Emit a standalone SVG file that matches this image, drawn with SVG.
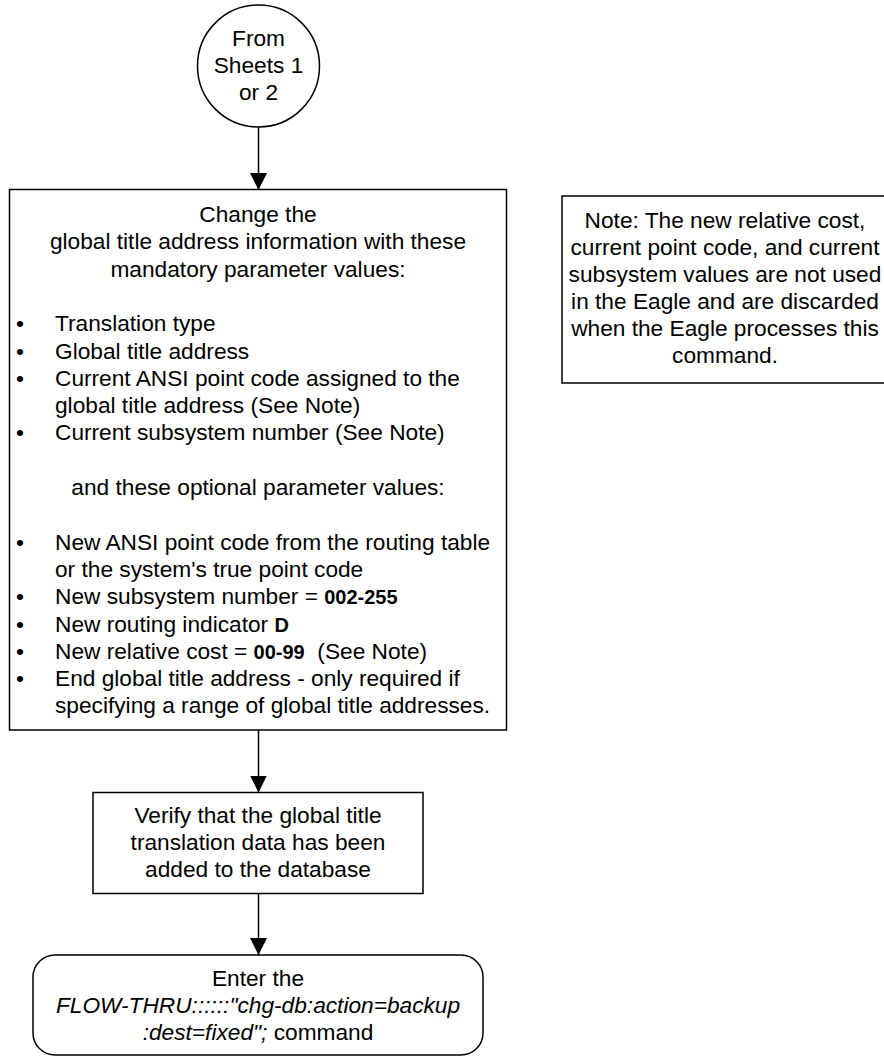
<svg xmlns="http://www.w3.org/2000/svg" width="884" height="1057" viewBox="0 0 884 1057">
<style>
.s{fill:#fff;stroke:#000;stroke-width:1.5}
.t{font-family:"Liberation Sans",Arial,sans-serif;font-size:22.7px;fill:#000}
.c{text-anchor:middle}
.b{font-weight:bold;font-size:20px}
.i{font-style:italic}
.e{stroke:#000;stroke-width:1.5;fill:none}
</style>
<defs>
<marker id="ah" viewBox="0 0 10 10" refX="10" refY="5" markerUnits="userSpaceOnUse" markerWidth="17" markerHeight="18" orient="auto">
<path d="M0,0 L10,5 L0,10 Z" fill="#000"/>
</marker>
</defs>
<g id="connectors">
<line class="e" x1="258.5" y1="127" x2="258.5" y2="190" marker-end="url(#ah)"/>
<line class="e" x1="258.5" y1="730" x2="258.5" y2="792.5" marker-end="url(#ah)"/>
<line class="e" x1="258.5" y1="893.5" x2="258.5" y2="955" marker-end="url(#ah)"/>
</g>
<g id="start">
<circle class="s" cx="258.5" cy="66" r="61"/>
<text class="t c" x="258.5" y="46">From</text>
<text class="t c" x="258.5" y="73">Sheets 1</text>
<text class="t c" x="258.5" y="100">or 2</text>
</g>
<g id="change">
<rect class="s" x="9.5" y="189.5" width="497" height="540.5"/>
<text class="t c" x="258" y="222">Change the</text>
<text class="t c" x="258" y="249.3">global title address information with these</text>
<text class="t c" x="258" y="276.6">mandatory parameter values:</text>
<text class="t" x="16" y="331.2">•</text><text class="t" x="55" y="331.2">Translation type</text>
<text class="t" x="16" y="358.5">•</text><text class="t" x="55" y="358.5">Global title address</text>
<text class="t" x="16" y="385.8">•</text><text class="t" x="55" y="385.8">Current ANSI point code assigned to the</text>
<text class="t" x="55" y="413.1">global title address (See Note)</text>
<text class="t" x="16" y="440.4">•</text><text class="t" x="55" y="440.4">Current subsystem number (See Note)</text>
<text class="t c" x="258" y="495">and these optional parameter values:</text>
<text class="t" x="16" y="549.6">•</text><text class="t" x="55" y="549.6">New ANSI point code from the routing table</text>
<text class="t" x="55" y="576.9">or the system's true point code</text>
<text class="t" x="16" y="604.2">•</text><text class="t" x="55" y="604.2">New subsystem number = <tspan class="b">002-255</tspan></text>
<text class="t" x="16" y="631.5">•</text><text class="t" x="55" y="631.5">New routing indicator <tspan class="b">D</tspan></text>
<text class="t" x="16" y="658.8">•</text><text class="t" x="55" y="658.8" xml:space="preserve">New relative cost = <tspan class="b">00-99</tspan>  (See Note)</text>
<text class="t" x="16" y="686.1">•</text><text class="t" x="55" y="686.1">End global title address - only required if</text>
<text class="t" x="55" y="713.4">specifying a range of global title addresses.</text>
</g>
<g id="note">
<rect class="s" x="562" y="196" width="326" height="187"/>
<text class="t c" x="725" y="228">Note: The new relative cost,</text>
<text class="t c" x="725" y="255">current point code, and current</text>
<text class="t c" x="725" y="282">subsystem values are not used</text>
<text class="t c" x="725" y="309">in the Eagle and are discarded</text>
<text class="t c" x="725" y="336">when the Eagle processes this</text>
<text class="t c" x="725" y="363">command.</text>
</g>
<g id="verify">
<rect class="s" x="93" y="792.5" width="330" height="101"/>
<text class="t c" x="258" y="823">Verify that the global title</text>
<text class="t c" x="258" y="850">translation data has been</text>
<text class="t c" x="258" y="877">added to the database</text>
</g>
<g id="backup">
<rect class="s" x="33" y="955" width="450" height="100" rx="22" ry="22"/>
<text class="t c" x="258" y="986">Enter the</text>
<text class="t c i" x="258" y="1013">FLOW-THRU::::::"chg-db:action=backup</text>
<text class="t c" x="258" y="1040"><tspan class="i">:dest=fixed";</tspan> command</text>
</g>
</svg>
